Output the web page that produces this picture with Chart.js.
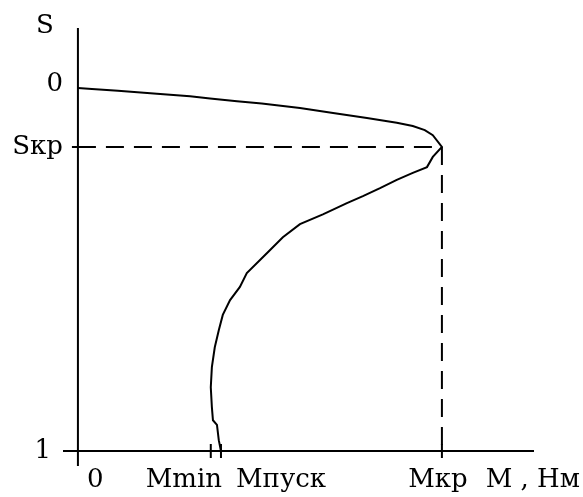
<!DOCTYPE html>
<html lang="ru">
<head>
    <meta charset="UTF-8">
    <title>Механическая характеристика</title>
    <script src="https://cdn.jsdelivr.net/npm/chart.js"></script>
    <style>
        html, body { margin: 0; background: #fff; }
        #wrap { width: 583px; height: 497px; position: relative; }
    </style>
</head>
<body>
    <div id="wrap"><canvas id="chart"></canvas></div>

    <script>
        // curve M(S), M in % of Mкр, S from 0 to 1
        const curveM = [0, 3.85, 11.0, 21.7, 30.8, 36.3, 43.7, 50.5, 61.0, 70.1,
            79.4, 87.6, 92.0, 95.3, 97.5, 100, 97.5, 95.9, 92.0, 87.6,
            83.0, 78.3, 73.9, 67.3, 61.0, 56.3, 51.9, 46.4, 44.5, 41.8,
            39.8, 38.7, 37.6, 36.8, 36.5, 36.8, 37.1, 38.2, 38.7, 39.3];
        const curveS = [0, 0.003, 0.008, 0.016, 0.023, 0.029, 0.037, 0.043, 0.055, 0.069,
            0.083, 0.096, 0.105, 0.116, 0.130, 0.1625, 0.190, 0.218, 0.234, 0.253,
            0.276, 0.298, 0.317, 0.348, 0.375, 0.411, 0.455, 0.510, 0.548, 0.584,
            0.625, 0.667, 0.714, 0.769, 0.824, 0.879, 0.915, 0.928, 0.970, 1.0];

        const sKr = 0.1625;
        const mKr = 100;
        const mMin = 36.5;
        const mPusk = 39.3;

        const xTickValues = [0, mMin, mPusk, mKr];
        const xTickLabels = ['0', 'Мmin', 'Мпуск', 'Мкр'];
        const yTickValues = [0, sKr, 1];
        const yTickLabels = ['0', 'Sкр', '1'];
        const xTitle = 'М , Нм';
        const yTitle = 'S';

        const xRange = [-4.1, 125.3];
        const yRange = [-0.165, 1.041];

        const ink = '#000';
        const labelFont = '26px "DejaVu Serif"';

        const axesPlugin = {
            id: 'axesCross',
            beforeDatasetsDraw(chart) {
                const { ctx, chartArea, scales: { x, y } } = chart;
                const x0 = x.getPixelForValue(0);
                const y1 = y.getPixelForValue(1);
                ctx.save();
                ctx.strokeStyle = ink;
                ctx.lineWidth = 2;
                ctx.beginPath();
                ctx.moveTo(x0, chartArea.top);
                ctx.lineTo(x0, chartArea.bottom);
                ctx.moveTo(chartArea.left, y1);
                ctx.lineTo(chartArea.right, y1);
                // tick marks
                xTickValues.forEach(v => {
                    if (v === 0) return;
                    const px = x.getPixelForValue(v);
                    ctx.moveTo(px, y1 - 7);
                    ctx.lineTo(px, y1 + 7);
                });
                const py = y.getPixelForValue(sKr);
                ctx.moveTo(x0 - 6, py);
                ctx.lineTo(x0, py);
                ctx.stroke();
                ctx.restore();
            },
            afterDraw(chart) {
                const { ctx, chartArea, scales: { x, y } } = chart;
                const x0 = x.getPixelForValue(0);
                const y1 = y.getPixelForValue(1);
                ctx.save();
                ctx.fillStyle = ink;
                ctx.font = labelFont;

                // y labels
                ctx.textAlign = 'right';
                ctx.textBaseline = 'middle';
                yTickValues.forEach((v, i) => {
                    const left = v === 1 ? chartArea.left - 12 : x0 - 15;
                    const dy = v === 0 ? -4 : 0;
                    ctx.fillText(yTickLabels[i], left, y.getPixelForValue(v) + dy);
                });
                ctx.textAlign = 'center';
                ctx.textBaseline = 'alphabetic';
                ctx.fillText(yTitle, x0 - 33, chartArea.top + 5);

                // x labels
                const base = y1 + 36;
                xTickValues.forEach((v, i) => {
                    const px = x.getPixelForValue(v);
                    if (i === 0) { ctx.textAlign = 'left'; ctx.fillText(xTickLabels[i], px + 9, base); }
                    else if (i === 1) { ctx.textAlign = 'right'; ctx.fillText(xTickLabels[i], x.getPixelForValue(mPusk) + 1, base); }
                    else if (i === 2) { ctx.textAlign = 'left'; ctx.fillText(xTickLabels[i], px + 15, base); }
                    else { ctx.textAlign = 'center'; ctx.fillText(xTickLabels[i], px - 4, base); }
                });
                ctx.textAlign = 'right';
                ctx.fillText(xTitle, chartArea.right + 46, base);
                ctx.restore();
            }
        };

        const curvePoints = curveM.map((m, i) => ({ x: m, y: curveS[i] }));

        new Chart(document.getElementById('chart'), {
            type: 'scatter',
            data: {
                datasets: [{
                    label: 'M(S)',
                    data: curvePoints,
                    showLine: true,
                    borderColor: ink,
                    borderWidth: 2,
                    pointRadius: 0,
                    tension: 0,
                    clip: false
                }, {
                    label: 'Mкр / Sкр',
                    data: [{ x: 0, y: sKr }, { x: mKr, y: sKr }, { x: mKr, y: 1 }],
                    showLine: true,
                    borderColor: ink,
                    borderWidth: 2,
                    borderDash: [18, 10],
                    pointRadius: 0,
                    clip: false
                }]
            },
            options: {
                responsive: true,
                maintainAspectRatio: false,
                animation: false,
                events: [],
                layout: { padding: { left: 63, right: 49, top: 28, bottom: 31 } },
                plugins: { legend: { display: false }, tooltip: { enabled: false } },
                scales: {
                    x: { type: 'linear', min: xRange[0], max: xRange[1], display: false },
                    y: { type: 'linear', min: yRange[0], max: yRange[1], reverse: true, display: false }
                }
            },
            plugins: [axesPlugin]
        });
    </script>
</body>
</html>
